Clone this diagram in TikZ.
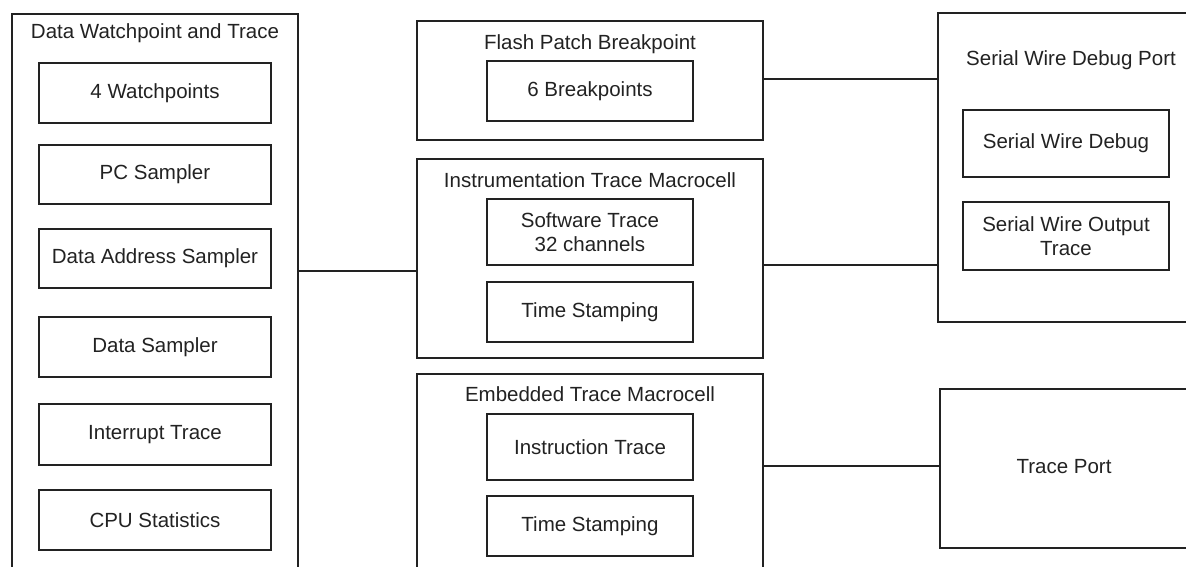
\documentclass[tikz,border=0pt]{standalone}
\usepackage{fontspec}
\setmainfont{Liberation Sans}
\definecolor{ink}{HTML}{222222}
\tikzset{
  frame/.style={draw=ink, line width=1.5pt, rectangle, inner sep=0pt},
  lbl/.style={text=ink, font=\fontsize{20.5}{24}\selectfont, align=center, inner sep=0pt},
  wire/.style={draw=ink, line width=1.5pt}
}
\begin{document}
\begin{tikzpicture}[x=1pt,y=-1pt]
\useasboundingbox (0,0) rectangle (1186,567);
\clip (0,0) rectangle (1186,567);
% Data Watchpoint and Trace
\node[frame, minimum width=286pt, minimum height=606pt] (dwt) at (155,317) {};
\node[lbl] (dwtt) at (155,33) {Data Watchpoint and Trace};
\node[frame, lbl, minimum width=232pt, minimum height=60pt] (wp) at (155,93) {4 Watchpoints};
\node[frame, lbl, minimum width=232pt, minimum height=59pt] (pcs) at (155,174.5) {PC Sampler};
\node[frame, lbl, minimum width=232pt, minimum height=59pt] (das) at (155,258.5) {Data Address Sampler};
\node[frame, lbl, minimum width=232pt, minimum height=60pt] (ds) at (155,347) {Data Sampler};
\node[frame, lbl, minimum width=232pt, minimum height=61pt] (it) at (155,434.5) {Interrupt Trace};
\node[frame, lbl, minimum width=232pt, minimum height=60pt] (cpu) at (155,520) {CPU Statistics};
% Flash Patch Breakpoint
\node[frame, minimum width=346pt, minimum height=119pt] (fpb) at (590,80.5) {};
\node[lbl] (fpbt) at (590,44) {Flash Patch Breakpoint};
\node[frame, lbl, minimum width=206pt, minimum height=60pt] (bp) at (590,91) {6 Breakpoints};
% Instrumentation Trace Macrocell
\node[frame, minimum width=346pt, minimum height=199pt] (itm) at (590,258.5) {};
\node[lbl] (itmt) at (590,180) {Instrumentation Trace Macrocell};
\node[frame, lbl, minimum width=206pt, minimum height=66pt] (swt) at (590,232) {Software Trace\\32 channels};
\node[frame, lbl, minimum width=206pt, minimum height=60pt] (ts1) at (590,312) {Time Stamping};
% Embedded Trace Macrocell
\node[frame, minimum width=346pt, minimum height=246pt] (etm) at (590,497) {};
\node[lbl] (etmt) at (590,394) {Embedded Trace Macrocell};
\node[frame, lbl, minimum width=206pt, minimum height=66pt] (ins) at (590,447) {Instruction Trace};
\node[frame, lbl, minimum width=206pt, minimum height=60pt] (ts2) at (590,526) {Time Stamping};
% Serial Wire Debug Port
\node[frame, minimum width=292pt, minimum height=309pt] (swdp) at (1084,167.5) {};
\node[lbl] (swdpt) at (1071,60) {Serial Wire Debug Port};
\node[frame, lbl, minimum width=206pt, minimum height=67pt] (swd) at (1066,143.5) {Serial Wire Debug};
\node[frame, lbl, minimum width=206pt, minimum height=68pt] (swo) at (1066,236) {Serial Wire Output\\Trace};
% Trace Port
\node[frame, minimum width=290pt, minimum height=159pt] (tp) at (1085,468.5) {};
\node[lbl] (tpt) at (1064,467) {Trace Port};
% connectors
\coordinate (ya) at (0,271);
\coordinate (yb) at (0,79);
\coordinate (yc) at (0,265);
\coordinate (yd) at (0,466);
\draw[wire] (dwt.east |- ya) -- (itm.west |- ya);
\draw[wire] (fpb.east |- yb) -- (swdp.west |- yb);
\draw[wire] (itm.east |- yc) -- (swdp.west |- yc);
\draw[wire] (etm.east |- yd) -- (tp.west |- yd);
\end{tikzpicture}
\end{document}
